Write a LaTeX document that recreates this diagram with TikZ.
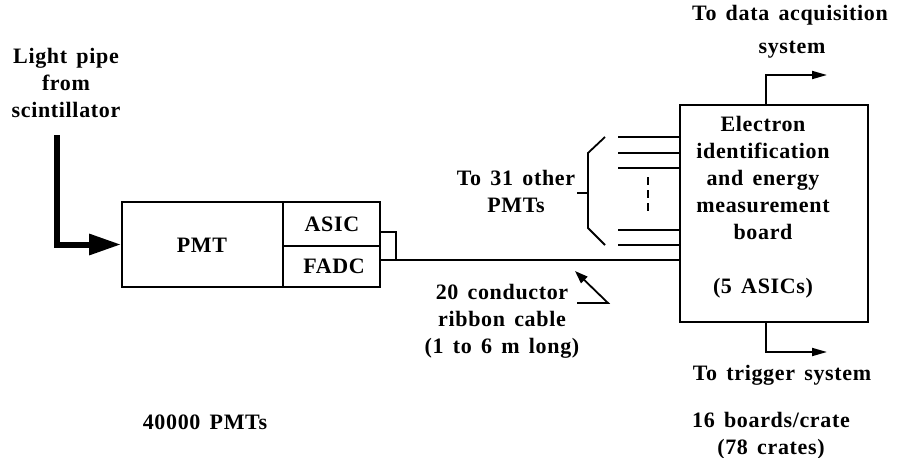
\documentclass[tikz,border=0pt]{standalone}
\usepackage{fontspec}
\setmainfont{Liberation Serif}[LetterSpace=3, WordSpace=1.5]
\usetikzlibrary{arrows.meta}
\begin{document}
\begin{tikzpicture}[x=1pt,y=-1pt,
  box/.style={draw, line width=1.8pt, inner sep=0pt},
  lbl/.style={font=\fontsize{22}{27}\selectfont\bfseries, align=center, inner sep=0pt},
  wire/.style={line width=1.8pt},
  arr/.style={line width=1.8pt, -{Triangle[length=15pt,width=8pt]}},
  pipe/.style={line width=6pt, -{Triangle[length=32pt,width=20pt]}}]
\path[use as bounding box] (0,0) rectangle (922,458);

% boxes
\node[box, minimum width=161pt, minimum height=85pt] (pmt) at (202.5,244.5) {};
\node[box, minimum width=97pt, minimum height=44pt] (asic) at (331.5,224) {};
\node[box, minimum width=97pt, minimum height=41pt] (fadc) at (331.5,266.5) {};
\node[box, minimum width=188pt, minimum height=217pt] (board) at (774,213.5) {};

% box texts
\node[lbl] (tpmt) at (202,245) {PMT};
\node[lbl] (tasic) at (332,224) {ASIC};
\node[lbl] (tfadc) at (334,266) {FADC};
\node[lbl] (tboard) at (763,207) {Electron\\identification\\and energy\\measurement\\board\\ \\(5 ASICs)};

% light pipe
\node[lbl] (tlight) at (66,83) {Light pipe\\from\\scintillator};
\coordinate (lp) at (57,135);
\draw[pipe] (lp) |- (pmt.west);

% small loop and cable
\coordinate (a1) at (380,232);
\coordinate (a2) at (396,232);
\coordinate (c1) at (380,260);
\coordinate (c2) at (396,260);
\draw[wire] (a1) -- (a2) -- (c2);
\draw[wire] (c1) -- (board.west |- c1);

% other PMT lines
\foreach \y/\n in {137/l1,153/l2,168/l3,230/l4,245/l5}{
  \coordinate (\n) at (618,\y);
  \draw[wire] (\n) -- (board.west |- \n);
}
\coordinate (d1) at (648,177);
\coordinate (d2) at (648,212);
\draw[wire, dash pattern=on 8pt off 5pt] (d1) -- (d2);

% bracket
\coordinate (b1) at (605,137);
\coordinate (b2) at (588,153);
\coordinate (b3) at (588,228);
\coordinate (b4) at (605,245);
\coordinate (bt) at (577,193);
\draw[wire] (b1) -- (b2) -- (b3) -- (b4);
\draw[wire] (bt) -- (bt -| b2);
\node[lbl] (tother) at (516,191) {To 31 other\\PMTs};

% outputs
\coordinate (daq) at (827,75);
\coordinate (trig) at (827,352);
\draw[arr] ([xshift=-8pt]board.north) |- (daq);
\draw[arr] ([xshift=-8pt]board.south) |- (trig);
\node[lbl] (tdaq1) at (790,15) {To data acquisition};
\node[lbl] (tdaq2) at (792,50) {system};
\node[lbl] (ttrig) at (782,375) {To trigger system};
\node[lbl] (tcrate) at (771,436) {16 boards/crate\\(78 crates)};

% cable pointer
\coordinate (p1) at (577,303);
\coordinate (p2) at (608,303);
\coordinate (p3) at (575,271);
\draw[line width=1.8pt, -{Triangle[length=13pt,width=9pt]}] (p1) -- (p2) -- (p3);
\node[lbl] (tcable) at (502,321) {20 conductor\\ribbon cable\\(1 to 6 m long)};

\node[lbl] (tcount) at (205,422) {40000 PMTs};
\end{tikzpicture}
\end{document}
